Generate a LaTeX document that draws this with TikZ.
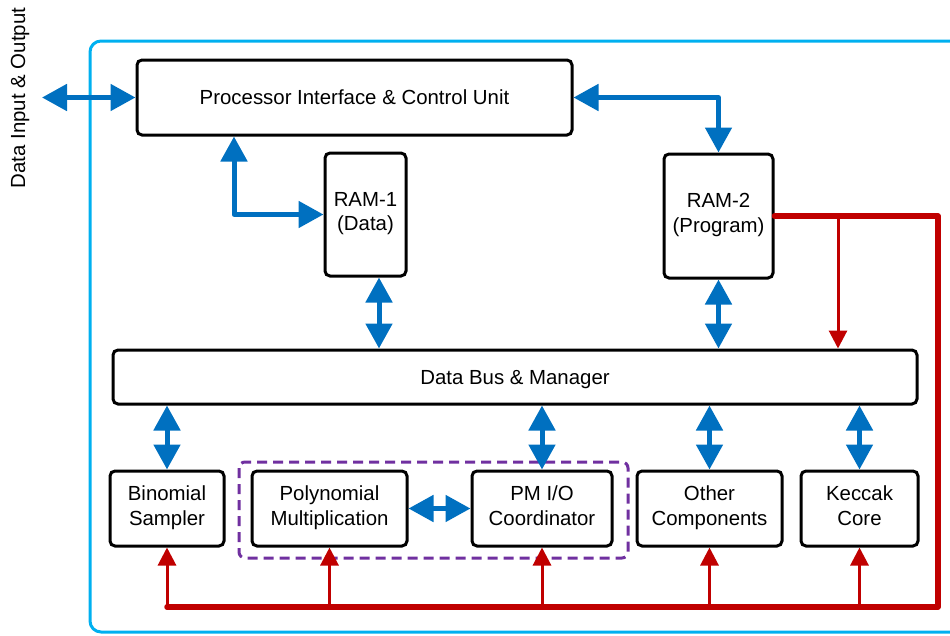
\documentclass[tikz,border=0pt]{standalone}
\usepackage{fontspec}
\setmainfont{Liberation Sans}
\usetikzlibrary{arrows.meta,calc}

\definecolor{busblue}{HTML}{0070C0}
\definecolor{ctrlred}{HTML}{C00000}
\definecolor{frameblue}{HTML}{00B0F0}
\definecolor{grouppurple}{HTML}{7030A0}

\tikzset{
  block/.style={draw=black, line width=3pt, rounded corners=5pt, fill=white,
    align=center, inner sep=0pt, font=\fontsize{20.4}{24.5}\selectfont,
    execute at begin node={\rule{0pt}{20pt}},
    execute at end node={\rule[-6pt]{0pt}{6pt}}},
  busarrow/.style={draw=busblue, line width=5pt, line join=round,
    {Triangle[length=25pt,width=26pt]}-{Triangle[length=25pt,width=26pt]}},
  ctrlthick/.style={draw=ctrlred, line width=5.5pt, line cap=round, line join=round},
  ctrlarrow/.style={draw=ctrlred, line width=3pt, -{Triangle[length=18pt,width=18pt]}},
}

\begin{document}
\begin{tikzpicture}[x=1pt,y=-1pt]
  \useasboundingbox (0,0) rectangle (950,635);
  \clip (0,0) rectangle (950,635);

  % outer chip frame (runs off the right side)
  \draw[frameblue, line width=3pt, rounded corners=11pt] (90,41) rectangle (975,632);

  % grouping of the multiplier blocks
  \draw[grouppurple, line width=3pt, dash pattern=on 10pt off 6pt, rounded corners=6pt]
    (239,462) rectangle (628,558);

  % blocks
  \node[block, minimum width=435pt, minimum height=75pt] (proc) at (354.5,97.5)
    {Processor Interface \& Control Unit};
  \node[block, minimum width=81pt, minimum height=123pt] (ram1) at (365.5,214.5)
    {RAM-1\\(Data)};
  \node[block, minimum width=109pt, minimum height=124pt] (ram2) at (718.5,216)
    {RAM-2\\(Program)};
  \node[block, minimum width=804pt, minimum height=54pt] (bus) at (515,377)
    {Data Bus \& Manager};
  \node[block, minimum width=114pt, minimum height=75pt] (binom) at (167,508.5)
    {Binomial\\Sampler};
  \node[block, minimum width=155pt, minimum height=75pt] (poly) at (329.5,508.5)
    {Polynomial\\Multiplication};
  \node[block, minimum width=140pt, minimum height=75pt] (pmio) at (542,508.5)
    {PM I/O\\Coordinator};
  \node[block, minimum width=145pt, minimum height=75pt] (other) at (709.5,508.5)
    {Other\\Components};
  \node[block, minimum width=117pt, minimum height=75pt] (keccak) at (859.5,508.5)
    {Keccak\\Core};

  % external interface label
  \node[rotate=90, font=\fontsize{20.4}{24.5}\selectfont] (iolabel) at (20,98)
    {Data Input \& Output};

  % helper points
  \coordinate (io) at (42,97.5);
  \coordinate (pl) at (234,0);
  \coordinate (r1l) at (379,0);
  \coordinate (rc) at (938,607);
  \coordinate (rl) at (167,607);
  \coordinate (rb) at (838,0);

  % data paths
  \draw[busarrow] (io) -- (proc.west);
  \draw[busarrow] (pl |- proc.south) |- (ram1.west);
  \draw[busarrow] (proc.east) -| (ram2.north);
  \draw[busarrow] (r1l |- ram1.south) -- (r1l |- bus.north);
  \draw[busarrow] (ram2.south) -- (ram2.south |- bus.north);
  \draw[busarrow] (binom.north |- bus.south) -- (binom.north);
  \draw[busarrow] (pmio.north |- bus.south) -- (pmio.north);
  \draw[busarrow] (other.north |- bus.south) -- (other.north);
  \draw[busarrow] (keccak.north |- bus.south) -- (keccak.north);
  \draw[busarrow] (poly.east) -- (pmio.west);

  % control paths
  \draw[ctrlthick] (ram2.east) -| (rc) -- (rl);
  \draw[ctrlarrow] (rb |- ram2.east) -- (rb |- bus.north);
  \draw[ctrlarrow] (binom.south |- rl) -- (binom.south);
  \draw[ctrlarrow] (poly.south |- rl) -- (poly.south);
  \draw[ctrlarrow] (pmio.south |- rl) -- (pmio.south);
  \draw[ctrlarrow] (other.south |- rl) -- (other.south);
  \draw[ctrlarrow] (keccak.south |- rl) -- (keccak.south);
\end{tikzpicture}
\end{document}
